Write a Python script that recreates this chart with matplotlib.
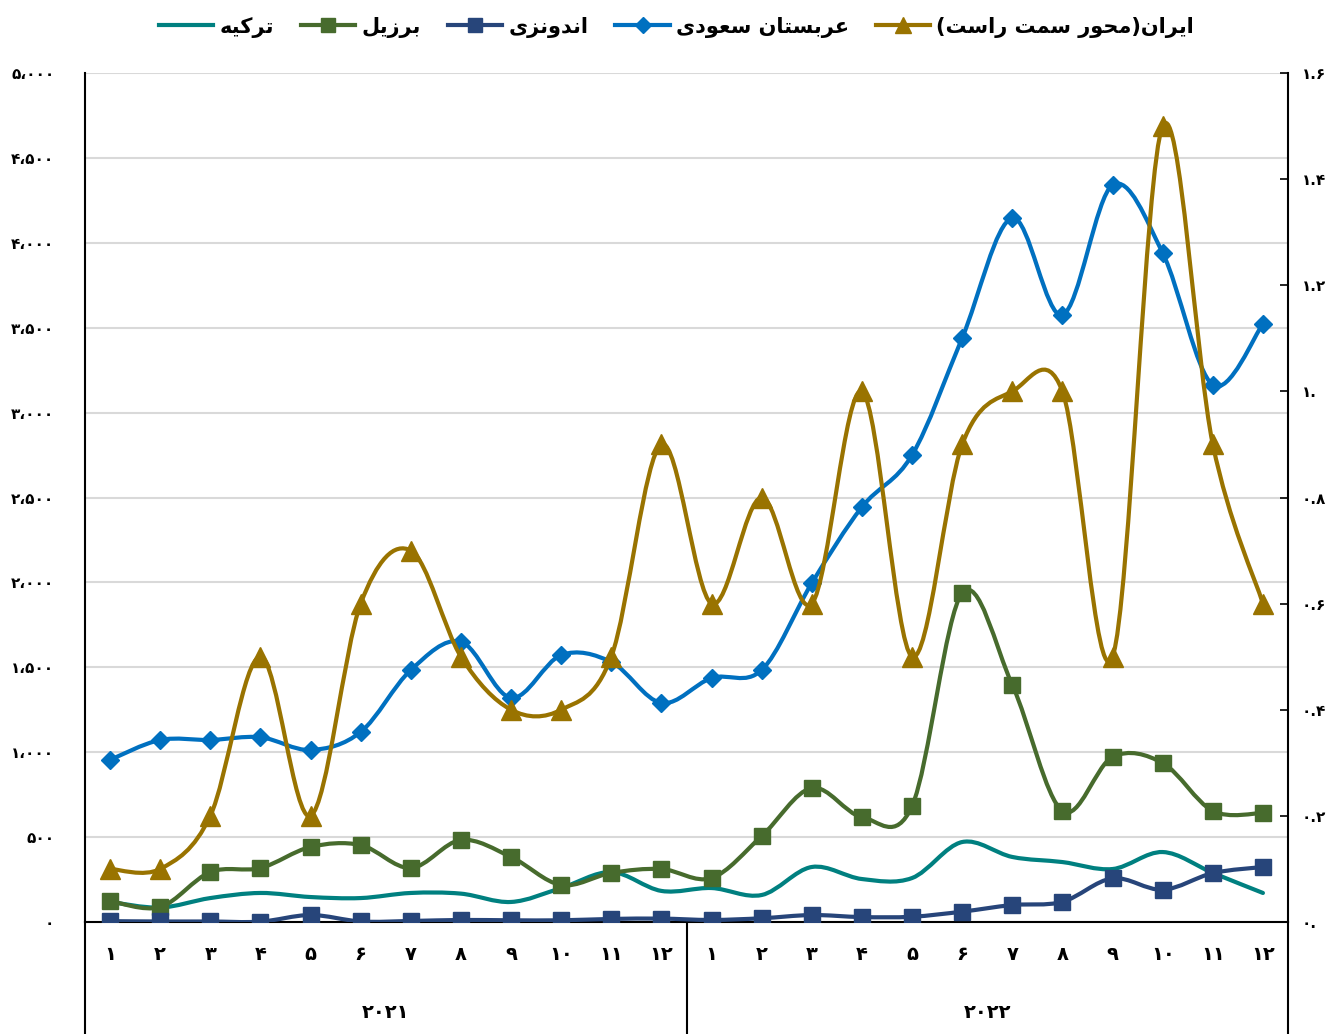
import matplotlib
matplotlib.use("Agg")
import matplotlib.pyplot as plt
import numpy as np
from matplotlib.path import Path
from matplotlib.patches import PathPatch
from matplotlib.lines import Line2D
from matplotlib.transforms import blended_transform_factory


# ------------------------------------------------------------------
# Data
# ------------------------------------------------------------------
month_labels = ["۱", "۲", "۳", "۴", "۵", "۶", "۷", "۸", "۹", "۱۰", "۱۱", "۱۲"] * 2
year_labels = ["۲۰۲۱", "۲۰۲۲"]

turkey = [118, 85, 141, 171, 147, 141, 171, 167, 118, 200, 294, 183,
          200, 159, 324, 253, 259, 471, 383, 353, 312, 412, 289, 171]
brazil = [124, 88, 294, 318, 442, 453, 318, 483, 383, 218, 289, 312,
          259, 506, 789, 618, 683, 1937, 1396, 654, 972, 936, 654, 642]
indonesia = [5, 3, 3, 2, 41, 3, 6, 12, 10, 10, 18, 20,
             12, 22, 41, 29, 31, 61, 100, 119, 257, 190, 288, 324]
saudi = [955, 1072, 1072, 1088, 1013, 1119, 1484, 1650, 1320, 1572, 1531, 1290,
         1437, 1484, 1996, 2444, 2750, 3440, 4146, 3575, 4340, 3940, 3163, 3522]
iran = [0.1, 0.1, 0.2, 0.5, 0.2, 0.6, 0.7, 0.5, 0.4, 0.4, 0.5, 0.9,
        0.6, 0.8, 0.6, 1.0, 0.5, 0.9, 1.0, 1.0, 0.5, 1.5, 0.9, 0.6]

left_ticks = [0, 500, 1000, 1500, 2000, 2500, 3000, 3500, 4000, 4500, 5000]
left_tick_labels = ["۰", "۵۰۰", "۱،۰۰۰", "۱،۵۰۰", "۲،۰۰۰", "۲،۵۰۰",
                    "۳،۰۰۰", "۳،۵۰۰", "۴،۰۰۰", "۴،۵۰۰", "۵،۰۰۰"]
right_ticks = [0, 0.2, 0.4, 0.6, 0.8, 1.0, 1.2, 1.4, 1.6]
right_tick_labels = ["۰.", "۰.۲", "۰.۴", "۰.۶", "۰.۸", "۱.", "۱.۲", "۱.۴", "۱.۶"]

label_turkey = "ترکیه"
label_brazil = "برزیل"
label_indonesia = "اندونزی"
label_saudi = "عربستان سعودی"
label_iran = "ایران(محور سمت راست)"

C_TURKEY = "#008080"
C_BRAZIL = "#476B2D"
C_INDONESIA = "#27457A"
C_SAUDI = "#0070C0"
C_IRAN = "#997300"


# ------------------------------------------------------------------
# Minimal Persian shaping (matplotlib has no bidi / joining support)
# forms: (isolated, final, initial, medial); None = does not join left
# ------------------------------------------------------------------
FORMS = {
    "ا": ("\uFE8D", "\uFE8E", None, None),
    "ب": ("\uFE8F", "\uFE90", "\uFE91", "\uFE92"),
    "ت": ("\uFE95", "\uFE96", "\uFE97", "\uFE98"),
    "ح": ("\uFEA1", "\uFEA2", "\uFEA3", "\uFEA4"),
    "د": ("\uFEA9", "\uFEAA", None, None),
    "ر": ("\uFEAD", "\uFEAE", None, None),
    "ز": ("\uFEAF", "\uFEB0", None, None),
    "س": ("\uFEB1", "\uFEB2", "\uFEB3", "\uFEB4"),
    "ع": ("\uFEC9", "\uFECA", "\uFECB", "\uFECC"),
    "ک": ("\uFB8E", "\uFB8F", "\uFB90", "\uFB91"),
    "ل": ("\uFEDD", "\uFEDE", "\uFEDF", "\uFEE0"),
    "م": ("\uFEE1", "\uFEE2", "\uFEE3", "\uFEE4"),
    "ن": ("\uFEE5", "\uFEE6", "\uFEE7", "\uFEE8"),
    "و": ("\uFEED", "\uFEEE", None, None),
    "ه": ("\uFEE9", "\uFEEA", "\uFEEB", "\uFEEC"),
    "ی": ("\uFBFC", "\uFBFD", "\uFBFE", "\uFBFF"),
}


def shape_rtl(text: str) -> str:
    out = []
    for i, ch in enumerate(text):
        if ch not in FORMS:
            out.append(ch)
            continue
        iso, fin, ini, med = FORMS[ch]
        prev = text[i - 1] if i > 0 else ""
        nxt = text[i + 1] if i + 1 < len(text) else ""
        join_prev = prev in FORMS and FORMS[prev][2] is not None
        join_next = ini is not None and nxt in FORMS
        if join_prev and join_next:
            out.append(med)
        elif join_prev:
            out.append(fin)
        elif join_next:
            out.append(ini)
        else:
            out.append(iso)
    # visual order, with mirrored brackets as a bidi renderer would do
    visual = "".join(reversed(out))
    return visual.translate(str.maketrans("()", ")("))


def smooth_path(xs, ys) -> Path:
    """Cubic Bezier through all points (Catmull-Rom style, like Excel smoothing)."""
    pts = np.column_stack([xs, ys]).astype(float)
    n = len(pts)
    verts = [pts[0]]
    codes = [Path.MOVETO]
    for i in range(n - 1):
        p0 = pts[i - 1] if i > 0 else pts[i]
        p1 = pts[i]
        p2 = pts[i + 1]
        p3 = pts[i + 2] if i + 2 < n else pts[i + 1]
        c1 = p1 + (p2 - p0) / 6.0
        c2 = p2 - (p3 - p1) / 6.0
        verts.extend([c1, c2, p2])
        codes.extend([Path.CURVE4] * 3)
    return Path(verts, codes)


def draw_series(ax, ys, color, marker=None, ms=10, z=3):
    xs = np.arange(len(ys))
    patch = PathPatch(smooth_path(xs, ys), facecolor="none", edgecolor=color,
                      lw=3.0, capstyle="round", joinstyle="round", zorder=z)
    ax.add_patch(patch)
    if marker is not None:
        ax.plot(xs, ys, linestyle="none", marker=marker, ms=ms, color=color,
                mec=color, zorder=z + 0.1)


def main() -> None:
    plt.rcParams["font.family"] = ["DejaVu Sans"]
    plt.rcParams["font.weight"] = "bold"

    fig = plt.figure(figsize=(13.4, 10.34), dpi=100)
    ax_left, ax_bottom = 85 / 1340, (1034 - 922) / 1034
    ax_w, ax_h = (1288 - 85) / 1340, (922 - 73) / 1034
    ax = fig.add_axes([ax_left, ax_bottom, ax_w, ax_h])
    ax2 = ax.twinx()

    n = len(saudi)
    ax.set_xlim(-0.5, n - 0.5)
    ax.set_ylim(0, 5000)
    ax2.set_ylim(0, 1.6)

    # grid
    ax.set_yticks(left_ticks)
    ax.yaxis.grid(True, color="#D9D9D9", lw=1.5, zorder=0)
    ax.set_axisbelow(True)
    ax.set_yticklabels(left_tick_labels, fontsize=11, fontweight="bold")
    ax.tick_params(axis="y", length=0, pad=22)

    ax2.set_yticks(right_ticks)
    ax2.set_yticklabels(right_tick_labels, fontsize=11, fontweight="bold")
    ax2.tick_params(axis="y", direction="in", length=6, width=1.2, pad=10)

    # series
    draw_series(ax, turkey, C_TURKEY, None, z=3)
    draw_series(ax, brazil, C_BRAZIL, "s", ms=11, z=4)
    draw_series(ax, indonesia, C_INDONESIA, "s", ms=11, z=5)
    draw_series(ax, saudi, C_SAUDI, "D", ms=9, z=6)
    draw_series(ax2, iran, C_IRAN, "^", ms=15, z=7)

    # spines
    ax.spines["top"].set_visible(False)
    ax2.spines["top"].set_visible(False)
    ax2.spines["left"].set_visible(False)
    ax2.spines["bottom"].set_visible(False)
    ax.spines["right"].set_visible(False)
    ax.spines["left"].set_linewidth(1.5)
    ax.spines["bottom"].set_linewidth(1.5)
    ax2.spines["right"].set_linewidth(1.5)

    # category axis: months and years
    ax.set_xticks([])
    trans = blended_transform_factory(ax.transData, ax.transAxes)
    bottom_frac = -ax_bottom / ax_h
    for xpos in (-0.5, 11.5, 23.5):
        ax.plot([xpos, xpos], [0, bottom_frac], transform=trans, color="black",
                lw=1.5, clip_on=False)
    month_y = -(955 - 922) / (922 - 73)
    for i, lab in enumerate(month_labels):
        ax.text(i, month_y, lab, transform=trans, ha="center", va="center",
                fontsize=14, fontweight="bold")
    year_y = -(1012 - 922) / (922 - 73)
    for k, lab in enumerate(year_labels):
        ax.text(5.5 + 12 * k, year_y, lab, transform=trans, ha="center",
                va="center", fontsize=14, fontweight="bold")

    # legend
    handles = [
        Line2D([], [], color=C_TURKEY, lw=3),
        Line2D([], [], color=C_BRAZIL, lw=3, marker="s", ms=10),
        Line2D([], [], color=C_INDONESIA, lw=3, marker="s", ms=10),
        Line2D([], [], color=C_SAUDI, lw=3, marker="D", ms=8),
        Line2D([], [], color=C_IRAN, lw=3, marker="^", ms=12),
    ]
    labels = [shape_rtl(s) for s in (label_turkey, label_brazil, label_indonesia,
                                      label_saudi, label_iran)]
    fig.legend(handles, labels, loc="center", bbox_to_anchor=(0.505, 1 - 27 / 1034),
               ncol=5, frameon=False, handlelength=2.6,
               handletextpad=0.3, columnspacing=1.3,
               prop={"weight": "bold", "size": 15})

    fig.savefig("out.png", dpi=100)
    plt.close(fig)


if __name__ == "__main__":
    main()
